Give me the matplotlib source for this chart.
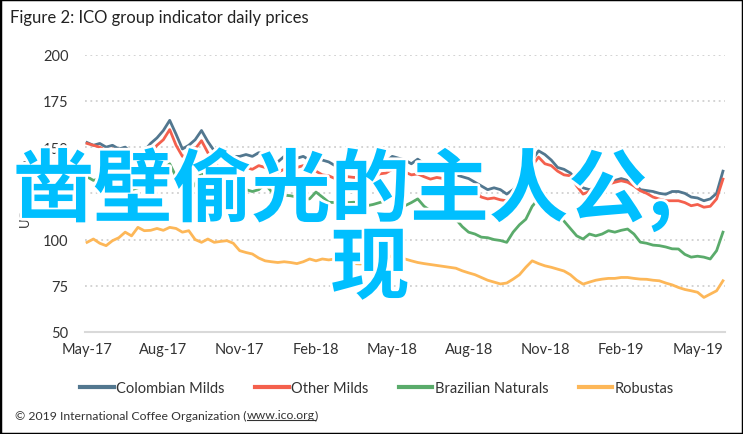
import matplotlib
matplotlib.use('agg')
import matplotlib.pyplot as plt
import matplotlib.patheffects as pe
from matplotlib.patches import Rectangle
from matplotlib.lines import Line2D
import numpy as np

# ---- data (US cents/lb), quarter-month steps from May 2017 ----
months = np.arange(0, 25.01, 0.25)

colombian = [152.5, 151, 152, 150, 151, 149, 150, 147, 146, 148, 152, 155, 159, 164.5, 157, 149,
             151, 154, 159, 153, 148, 146, 147, 145, 145, 146, 145, 147, 146, 144, 142, 145,
             143, 144, 145, 143, 144, 143, 142, 140, 139, 141, 141, 140, 141, 139, 140, 142,
             145, 144, 143, 141, 143.5, 141, 140, 139, 138, 137, 135, 134, 133, 131, 129, 127,
             128, 127, 124.6, 127, 131, 138, 143, 148, 146, 143, 139, 138, 136, 132, 128, 127,
             128, 130, 131, 132, 133, 132, 131, 127, 126.5, 126, 125, 124.5, 126, 126, 125, 123,
             122.5, 121, 122, 125, 137]
other_milds = [152, 151, 150, 148, 149, 146, 145, 143, 142, 144, 147, 151, 154, 159.5, 151, 145,
               146, 149, 153.5, 147, 141, 139, 140, 138, 139, 139, 138, 140, 139, 137, 136.5, 138,
               137, 139, 140, 137, 137, 135, 134.5, 133, 132.7, 134, 133.6, 134, 135, 134, 135.5, 136,
               138, 137, 136.5, 135, 135.5, 134, 132.7, 133.6, 133, 131, 129, 128.5, 127.3, 126, 123, 122,
               122.5, 121.5, 121, 124, 129, 134, 140, 144.6, 141, 140, 137, 135, 134.5, 129, 124.6, 126,
               127, 128, 130, 131, 131.8, 131, 129, 126.4, 125, 123, 121.9, 121, 121, 121, 120, 118.3,
               119, 117.5, 118, 122, 132.7]
brazilian = [134, 132, 133, 131, 132, 130, 128, 127, 128, 131, 133, 135.5, 138, 141, 134, 129,
             125.7, 130, 136.5, 133, 129, 127, 126.4, 128, 127, 127, 126, 127, 130, 126, 124.6, 124,
             123.7, 123, 121.9, 122, 125.7, 123, 120.2, 120, 119.2, 120, 120.2, 119, 118.3, 119, 120, 121,
             123.7, 121, 118.3, 120, 122, 118, 115.6, 113, 111, 111, 111, 107, 104, 103, 101.3, 101,
             100, 99.5, 98.5, 104, 108, 111, 118, 122, 119, 115, 113, 110, 106, 102, 100.3, 103,
             102, 103, 104.8, 104, 105, 105.7, 103, 98.6, 98, 97, 96.7, 96, 95, 94.9, 92, 90.5,
             91, 90.5, 89.5, 94, 104]
robustas = [98.5, 100.3, 98, 96.7, 99.4, 101, 104, 102, 106.6, 104.8, 105, 106, 105, 106.6, 106, 104,
            104.8, 100, 98.5, 100.3, 98.5, 99, 99.4, 98, 94, 93, 92.2, 90, 88.5, 88, 87.6, 88,
            87.6, 87, 88, 89.5, 88.5, 89.5, 89, 89.5, 89, 88, 87, 86.8, 87.5, 88.5, 89, 90,
            91.3, 90, 89.5, 88.5, 87.6, 87, 86.5, 86, 85.5, 85, 84.5, 83.1, 82, 81, 79.5, 78,
            77, 76, 76.5, 78.6, 81, 85, 88.5, 87, 85.8, 85, 84, 83, 81, 78, 75.9, 77,
            78, 78.6, 79, 79, 79.5, 79.5, 79, 78.6, 78.5, 78, 77.7, 76.5, 75.5, 74.1, 73, 72.3,
            71.5, 68.7, 70.5, 72.3, 77.7]

series_names = ["Colombian Milds", "Other Milds", "Brazilian Naturals", "Robustas"]
series_colors = ["#52778f", "#f4604d", "#5aab6b", "#fdb758"]

tick_months = [0, 3, 6, 9, 12, 15, 18, 21, 24]
tick_labels = ["May-17", "Aug-17", "Nov-17", "Feb-18", "May-18", "Aug-18", "Nov-18", "Feb-19", "May-19"]
y_ticks = [50, 75, 100, 125, 150, 175, 200]

overlay_line1 = "凿壁偷光的主人公,"
overlay_line2 = "现"

# ---- figure ----
plt.rcParams['font.family'] = ['Lato', 'DejaVu Sans']
W, H = 743, 435
fig = plt.figure(figsize=(W / 100, H / 100), dpi=100)
ax = fig.add_axes([85 / W, 1 - 333 / H, 640 / W, (333 - 55.7) / H])

for vals, name, col in zip([colombian, other_milds, brazilian, robustas], series_names, series_colors):
    ax.plot(months, vals, color=col, lw=2.0, label=name, solid_joinstyle='round')

ax.set_xlim(-0.08, 25.08)
ax.set_ylim(50, 200)
ax.set_yticks(y_ticks)
ax.set_xticks(tick_months)
ax.set_xticklabels(tick_labels)
ax.tick_params(length=0, labelsize=10.5, colors='#333333', pad=7)
ax.tick_params(axis='y', pad=12)
ax.grid(axis='y', color='#d0d0d0', linestyle=(0, (1, 2)), lw=1.3)
ax.set_axisbelow(True)
for s in ['top', 'right', 'left']:
    ax.spines[s].set_visible(False)
ax.spines['bottom'].set_color('#d9d9d9')
ax.spines['bottom'].set_linewidth(1.5)
ax.set_ylabel("US cents/lb", fontsize=9.5, color='#333333', labelpad=8)

fig.text(10 / W, 1 - 18 / H, "Figure 2: ICO group indicator daily prices", fontsize=12,
         color='#222222', va='center', ha='left')

leg = ax.legend(loc='center', bbox_to_anchor=(377 / W, 1 - 389 / H), bbox_transform=fig.transFigure,
                ncol=4, frameon=False, fontsize=10.5, handlelength=2.3, handletextpad=0.15,
                columnspacing=2.1, labelcolor='#333333')
for ln in leg.get_lines():
    ln.set_linewidth(3)

# footer with underlined link
foot_y = 1 - 416 / H
foot_fs = 8.8
t1 = fig.text(15 / W, foot_y, "© 2019 International Coffee Organization (", fontsize=foot_fs,
              color='#333333', va='center', ha='left')
fig.canvas.draw()
r = fig.canvas.get_renderer()
b1 = t1.get_window_extent(r)
t2 = fig.text(b1.x1 / W, foot_y, "www.ico.org", fontsize=foot_fs, color='#333333', va='center', ha='left')
b2 = t2.get_window_extent(r)
fig.text(b2.x1 / W, foot_y, ")", fontsize=foot_fs, color='#333333', va='center', ha='left')
fig.add_artist(Line2D([b2.x0 / W, b2.x1 / W], [(b2.y0 + 1) / H] * 2, color='#333333', lw=0.8))

# overlay text
ov_kw = dict(fontsize=57, color='#00bfff', family=['Noto Sans CJK SC', 'DejaVu Sans'],
             fontweight='bold', path_effects=[pe.withStroke(linewidth=4, foreground='white')], zorder=10)
fig.text(14 / W, 1 - 191 / H, overlay_line1, ha='left', va='center', **ov_kw)
fig.text(370 / W, 1 - 270 / H, overlay_line2, ha='center', va='center', **ov_kw)

# outer border
fig.add_artist(Rectangle((0, 0), 1, 1, transform=fig.transFigure, fill=False, ec='black', lw=2.5))

fig.savefig("out.png", dpi=100)
